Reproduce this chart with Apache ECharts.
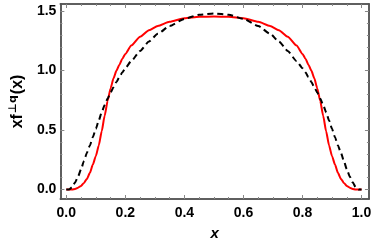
<!DOCTYPE html>
<html><head><meta charset="utf-8">
<script src="https://cdn.jsdelivr.net/npm/echarts@6/dist/echarts.min.js"></script>
<style>html,body{margin:0;padding:0;background:#fff}#c{width:374px;height:246px}</style>
</head><body><div id="c"></div>
<script>
const xs = [0,0.01,0.02,0.03,0.04,0.05,0.06,0.07,0.08,0.09,0.10,0.11,0.12,0.13,0.14,0.15,0.16,0.17,0.18,0.19,0.20,0.22,0.25,0.28,0.31,0.35,0.40,0.45,0.50,
  0.55,0.60,0.65,0.69,0.72,0.75,0.78,0.80,0.81,0.82,0.83,0.84,0.85,0.86,0.87,0.88,0.89,0.90,0.91,0.92,0.93,0.94,0.95,0.96,0.97,0.98,0.99,1.0];
const redVals = [0,0,0,0.005,0.015,0.03,0.055,0.09,0.14,0.21,0.28,0.37,0.49,0.62,0.745,0.85,0.935,1.0,1.05,1.1,1.14,1.21,1.285,1.34,1.375,1.41,1.44,1.452,1.455,
  1.452,1.44,1.41,1.375,1.34,1.285,1.21,1.14,1.1,1.05,1.0,0.935,0.85,0.745,0.62,0.49,0.37,0.28,0.21,0.14,0.09,0.055,0.03,0.015,0.005,0,0,0];
const blackVals = [0,0,0.02,0.06,0.11,0.17,0.24,0.31,0.37,0.44,0.51,0.58,0.65,0.71,0.765,0.815,0.86,0.905,0.945,0.985,1.02,1.08,1.165,1.245,1.31,1.375,1.435,1.47,1.48,
  1.47,1.435,1.375,1.31,1.245,1.165,1.08,1.02,0.985,0.945,0.905,0.86,0.815,0.765,0.71,0.65,0.58,0.51,0.44,0.37,0.31,0.24,0.17,0.11,0.06,0.02,0,0];
const xMajor = [0,0.2,0.4,0.6,0.8,1.0];
const xMinor = [0.05,0.1,0.15,0.25,0.3,0.35,0.45,0.5,0.55,0.65,0.7,0.75,0.85,0.9,0.95];
const yMajor = [0,0.5,1.0,1.5];
const yMinor = [0.1,0.2,0.3,0.4,0.6,0.7,0.8,0.9,1.1,1.2,1.3,1.4];

const frameColor = '#555';
const tickColor = '#888';
const FONT = 'Liberation Sans, Arial, sans-serif';
const labelFont = {color:'#000', fontWeight:'bold', fontSize:14, fontFamily:FONT};
const XMIN=-0.02, XMAX=1.025, YMIN=-0.08, YMAX=1.56;

function xAx(pos, vals, len, showLabel, extra){
  return Object.assign({type:'value', position:pos, min:XMIN, max:XMAX, splitLine:{show:false},
    axisLine:{show:true, onZero:false, lineStyle:{color:frameColor, width:1.5}},
    axisTick:{show:true, inside:true, length:len, customValues:vals, lineStyle:{color:tickColor, width:1}},
    axisLabel:{show:showLabel, customValues:vals, margin:7, formatter:v=>v.toFixed(1), ...labelFont}}, extra||{});
}
function yAx(pos, vals, len, showLabel, extra){
  return Object.assign({type:'value', position:pos, min:YMIN, max:YMAX, splitLine:{show:false},
    axisLine:{show:true, onZero:false, lineStyle:{color:frameColor, width:1.5}},
    axisTick:{show:true, inside:true, length:len, customValues:vals, lineStyle:{color:tickColor, width:1}},
    axisLabel:{show:showLabel, customValues:vals, margin:4, formatter:v=>v.toFixed(1), ...labelFont}}, extra||{});
}
const chart = echarts.init(document.getElementById('c'), null, {renderer:'canvas'});
chart.setOption({
  animation:false,
  grid:{left:48, right:3, top:4, bottom:45},
  xAxis:[
    xAx('bottom', xMajor, 4, true, {name:'x', nameLocation:'middle', nameGap:27,
      nameTextStyle:{color:'#000', fontWeight:'bold', fontStyle:'italic', fontSize:15, fontFamily:FONT}}),
    xAx('bottom', xMinor, 2, false),
    xAx('top', xMajor, 4, false),
    xAx('top', xMinor, 2, false)
  ],
  yAxis:[
    yAx('left', yMajor, 4, true, {name:'{a|xf}{b|⊥q}{a|(x)}', nameLocation:'middle', nameGap:28,
      nameTextStyle:{rich:{
        a:{color:'#000', fontWeight:'bold', fontSize:16, fontFamily:FONT, lineHeight:18, verticalAlign:'bottom'},
        b:{color:'#000', fontWeight:'bold', fontSize:11, fontFamily:'DejaVu Sans, Liberation Sans, sans-serif', lineHeight:18, verticalAlign:'top', padding:[0,1,6,1]}
      }}}),
    yAx('left', yMinor, 2, false),
    yAx('right', yMajor, 4, false),
    yAx('right', yMinor, 2, false)
  ],
  series:[
    {type:'line', xAxisIndex:0, yAxisIndex:0, data:xs.map((x,i)=>[x,redVals[i]]), showSymbol:false, smooth:0.2, smoothMonotone:'x',
      lineStyle:{color:'#ff0000', width:2}, z:3},
    {type:'line', xAxisIndex:0, yAxisIndex:0, data:xs.map((x,i)=>[x,blackVals[i]]), showSymbol:false, smooth:0.2, smoothMonotone:'x',
      lineStyle:{color:'#000', width:2, type:[6,4]}, z:4}
  ]
});
</script></body></html>
